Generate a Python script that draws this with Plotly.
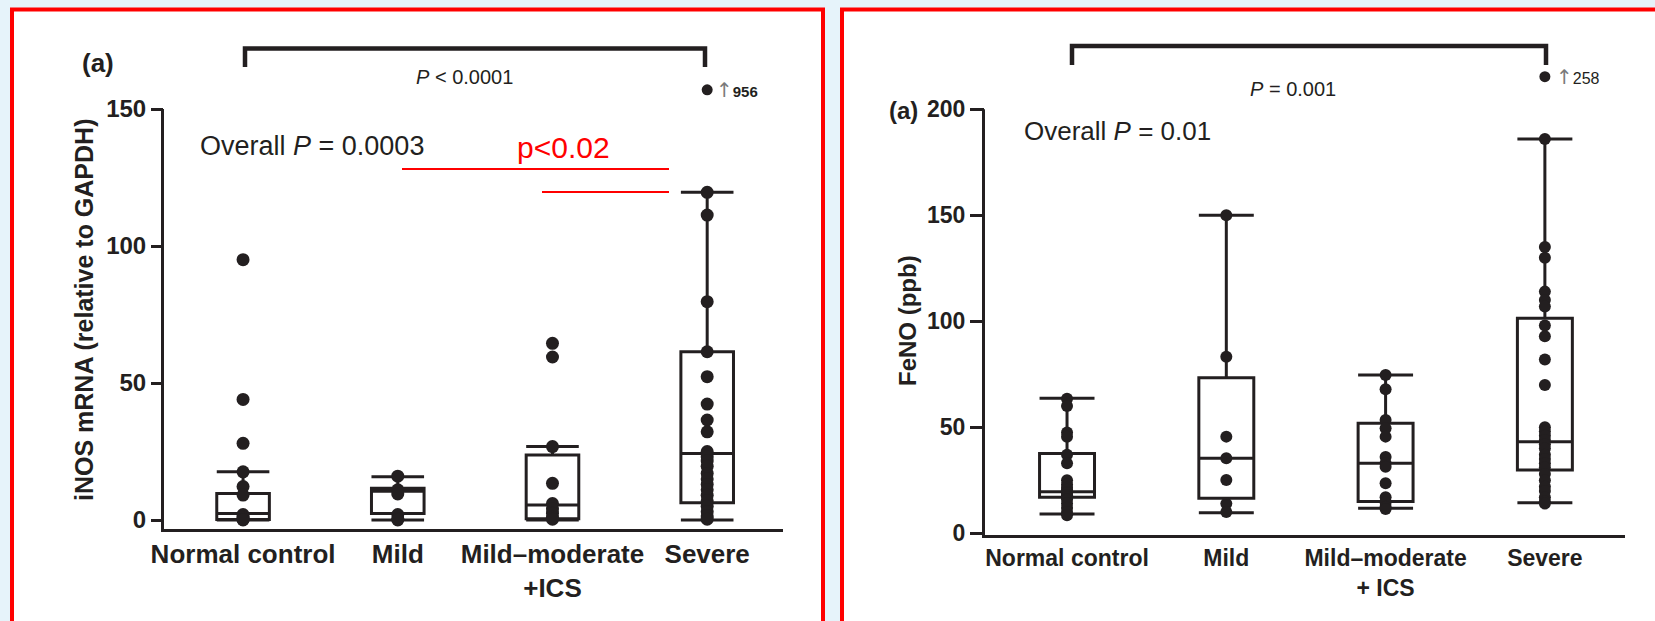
import plotly.graph_objects as go

# ---------------- data ----------------
inos_categories = ["Normal control", "Mild", "Mild–moderate<br>+ICS", "Severe"]
feno_categories = ["Normal control", "Mild", "Mild–moderate<br>+ ICS", "Severe"]

# iNOS mRNA (relative to GAPDH): box statistics per group
inos_q1 = [0.2, 2.4, 0.5, 6.3]
inos_median = [2.4, 10.5, 5.5, 24.3]
inos_q3 = [9.7, 11.6, 23.7, 61.4]
inos_lower = [0.0, 0.0, 0.0, 0.0]
inos_upper = [17.6, 15.8, 26.8, 119.6]

# iNOS individual subjects
inos_normal = [95, 44, 28, 17.6, 12.2, 9.1, 2.0, 1.2, 0.6, 0.2, 0.0]
inos_mild = [16, 11, 9.5, 2.0, 0.5, 0.0]
inos_mild_mod = [64.5, 59.5, 26.8, 13.4, 6.0, 4.0, 2.5, 1.0, 0.3]
inos_severe = [119.6, 111.3, 79.7, 61.4, 52.3, 42.3, 36.5, 32.2, 25, 23, 21.5,
               19.6, 17, 15, 13, 11, 9, 7, 5, 3, 1.5, 0.3]
inos_severe_offscale = 956

# FeNO (ppb): box statistics per group
feno_q1 = [17.0, 16.5, 15.0, 29.9]
feno_median = [19.6, 35.4, 33.0, 43.2]
feno_q3 = [37.7, 73.4, 51.9, 101.4]
feno_lower = [9.1, 9.7, 11.8, 14.4]
feno_upper = [63.7, 150, 74.7, 186]

# FeNO individual subjects
feno_normal = [63.5, 60, 47.5, 45.5, 37, 33, 25, 23, 21.5, 20.5, 19.5, 19, 18,
               17, 16, 14, 12, 10, 8.5]
feno_mild = [150, 83.3, 45.6, 35.4, 25.1, 14, 10]
feno_mild_mod = [74.7, 68, 53.4, 49.5, 45.6, 36, 33, 31.4, 23.6, 17, 14.5, 12.5, 11.5]
feno_severe = [186, 135, 130, 114, 110, 107, 98, 93, 82, 70, 50, 48, 46, 44, 42,
               40, 37, 35, 33, 31, 28, 25, 22, 20, 17, 15, 14]
feno_severe_offscale = 258

inos_ticks = [0, 50, 100, 150]
feno_ticks = [0, 50, 100, 150, 200]

# ---------------- layout helpers ----------------
W, H = 1655, 621
INK = "#231f20"
FONT = "Liberation Sans, Arial, Helvetica, sans-serif"


def fx(px):
    return px / W


def fy(py):
    return 1 - py / H


# pixel geometry of the two plotting frames
L_X0, L_X1, L_YBASE, L_YTOP = 164, 783, 529, 109        # left: y-axis spans to 150
R_X0, R_X1, R_YBASE, R_YTOP = 985, 1625, 535, 109.3     # right: y-axis spans to 200
L_RANGE_LO, R_RANGE_LO = -3.28, -0.8

l_ppu = (L_YBASE - L_YTOP) / (inos_ticks[-1] - L_RANGE_LO)
r_ppu = (R_YBASE - R_YTOP) / (feno_ticks[-1] - R_RANGE_LO)
l_range_hi = L_RANGE_LO + L_YBASE / l_ppu
r_range_hi = R_RANGE_LO + R_YBASE / r_ppu

fig = go.Figure()


def add_panel(xa, ya, q1, med, q3, lo, hi, groups, dot_size, box_w):
    xs = list(range(len(q1)))
    fig.add_trace(go.Box(
        x=xs, q1=q1, median=med, q3=q3, lowerfence=lo, upperfence=hi,
        xaxis=xa, yaxis=ya, boxpoints=False, width=box_w, whiskerwidth=1,
        line=dict(color=INK, width=3), fillcolor="rgba(0,0,0,0)",
        showlegend=False, hoverinfo="skip"))
    for i, vals in enumerate(groups):
        fig.add_trace(go.Scatter(
            x=[i] * len(vals), y=vals, xaxis=xa, yaxis=ya, mode="markers",
            marker=dict(size=dot_size, color=INK), showlegend=False))


add_panel("x", "y", inos_q1, inos_median, inos_q3, inos_lower, inos_upper,
          [inos_normal, inos_mild, inos_mild_mod, inos_severe], 13, 0.34)
add_panel("x2", "y2", feno_q1, feno_median, feno_q3, feno_lower, feno_upper,
          [feno_normal, feno_mild, feno_mild_mod, feno_severe], 12, 0.345)

# off-scale values: plotted just above the top of each axis
fig.add_trace(go.Scatter(x=[3], y=[inos_ticks[-1] + 7], xaxis="x", yaxis="y",
                         mode="markers", marker=dict(size=11, color=INK),
                         showlegend=False))
fig.add_trace(go.Scatter(x=[3], y=[feno_ticks[-1] + 15.4], xaxis="x2", yaxis="y2",
                         mode="markers", marker=dict(size=11, color=INK),
                         showlegend=False))

xcommon = dict(showgrid=False, zeroline=False, showline=True, linecolor=INK,
               linewidth=3, ticks="", automargin=False)
ycommon = dict(showgrid=False, zeroline=False, showline=False, ticks="outside",
               tickcolor=INK, automargin=False)

fig.update_layout(
    width=W, height=H, margin=dict(l=0, r=0, t=0, b=0, autoexpand=False),
    paper_bgcolor="#e6f3fa", plot_bgcolor="rgba(0,0,0,0)",
    font=dict(family=FONT, color=INK),
    xaxis=dict(domain=[fx(L_X0), fx(L_X1)], range=[-0.511, 3.49],
               tickvals=[0, 1, 2, 3], ticktext=inos_categories,
               tickfont=dict(size=26, weight="bold", color=INK),
               anchor="y", **xcommon),
    yaxis=dict(domain=[fy(L_YBASE), 1], range=[L_RANGE_LO, l_range_hi],
               tickvals=inos_ticks, ticklen=12, tickwidth=3,
               tickfont=dict(size=24, weight="bold", color=INK),
               anchor="x", **ycommon),
    xaxis2=dict(domain=[fx(R_X0), fx(R_X1)], range=[-0.515, 3.503],
                tickvals=[0, 1, 2, 3], ticktext=feno_categories,
                tickfont=dict(size=23, weight="bold", color=INK),
                anchor="y2", **xcommon),
    yaxis2=dict(domain=[fy(R_YBASE), 1], range=[R_RANGE_LO, r_range_hi],
                tickvals=feno_ticks, ticklen=14, tickwidth=2.5,
                tickfont=dict(size=23, weight="bold", color=INK),
                anchor="x2", **ycommon),
)

shapes = []
# panel frames
for x0, x1 in [(12, 823), (842, 1690)]:
    shapes.append(dict(type="rect", xref="paper", yref="paper", layer="below",
                       x0=fx(x0), x1=fx(x1), y0=fy(9.5), y1=fy(660),
                       fillcolor="white", line=dict(color="#ff0000", width=4)))

# vertical axis spines, ending at the top tick
for xx, yb, yt in [(L_X0 - 1.5, L_YBASE + 3, L_YTOP), (R_X0 - 1.5, R_YBASE + 3, R_YTOP)]:
    shapes.append(dict(type="line", xref="paper", yref="paper",
                       x0=fx(xx), x1=fx(xx), y0=fy(yb), y1=fy(yt),
                       line=dict(color=INK, width=3)))


def bracket(xl, xr, ytop, ybot):
    path = (f"M {fx(xl)},{fy(ybot)} L {fx(xl)},{fy(ytop)} "
            f"L {fx(xr)},{fy(ytop)} L {fx(xr)},{fy(ybot)}")
    return dict(type="path", xref="paper", yref="paper", path=path,
                line=dict(color=INK, width=4.5))


shapes.append(bracket(245, 705, 48.5, 67))
shapes.append(bracket(1072, 1546, 46, 65))

# red comparison lines
for xl, xr, yy in [(402, 669, 169), (542, 669, 192)]:
    shapes.append(dict(type="line", xref="paper", yref="paper",
                       x0=fx(xl), x1=fx(xr), y0=fy(yy), y1=fy(yy),
                       line=dict(color="#ff0000", width=2)))
fig.update_layout(shapes=shapes)


def note(text, x, y, size, xanchor="center", color=INK, angle=0):
    fig.add_annotation(text=text, x=fx(x), y=fy(y), xref="paper", yref="paper",
                       xanchor=xanchor, yanchor="middle", showarrow=False,
                       textangle=angle, font=dict(size=size, color=color, family=FONT))


ARROW = ('<span style="color:#7a7a7a;font-family:DejaVu Sans;'
         'font-size:20px">↑</span>')

# left panel text
note("<b>(a)</b>", 98, 63, 26)
note("<i>P</i> &lt; 0.0001", 464, 77, 20)
note("Overall <i>P</i> = 0.0003", 198, 146, 27, xanchor="left")
note("p&lt;0.02", 563, 148, 30, color="#ff0000")
note(f"{ARROW}<b>{inos_severe_offscale}</b>", 714, 90, 15, xanchor="left")
note("<b>iNOS mRNA (relative to GAPDH)</b>", 84, 310, 25, angle=-90)

# right panel text
note("<b>(a)</b>", 903, 110, 24)
note("<i>P</i> = 0.001", 1293, 89, 20)
note("Overall <i>P</i> = 0.01", 1022, 131, 26, xanchor="left")
note(f"{ARROW}{feno_severe_offscale}", 1554, 77, 16, xanchor="left")
note("<b>FeNO (ppb)</b>", 907, 321, 24, angle=-90)

fig.write_html("out.html", post_script="document.body.style.margin='0';")
